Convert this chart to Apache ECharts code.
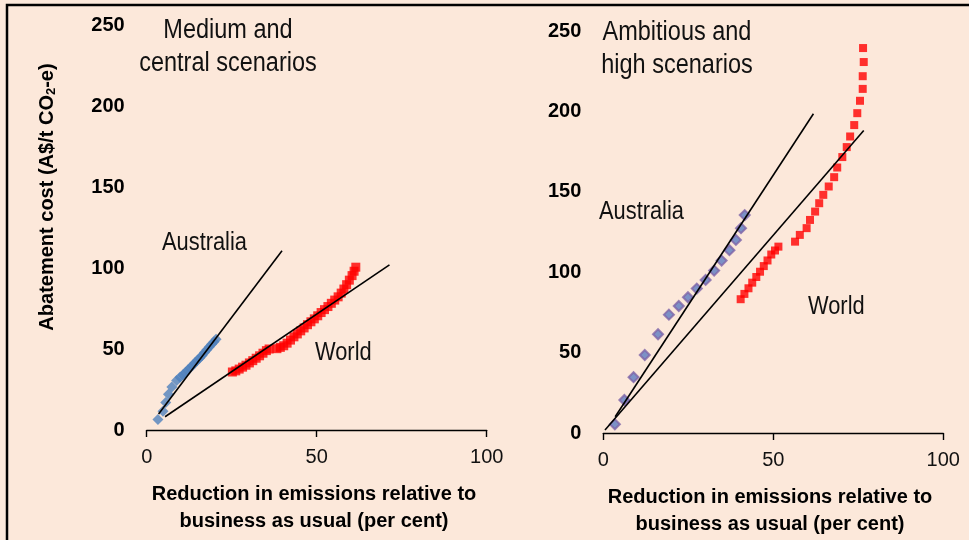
<!DOCTYPE html>
<html>
<head>
<meta charset="utf-8">
<script src="https://cdn.jsdelivr.net/npm/echarts@6/dist/echarts.min.js"></script>
<style>
  html, body { margin: 0; padding: 0; background: #FCE8DA; }
  #chart { width: 969px; height: 540px; }
</style>
</head>
<body>
<div id="chart"></div>
<script>
// Axis ranges (per cent reduction vs A$/t CO2-e)
const xRange = { min: 0, max: 100, step: 50 };
const yRange = { min: 0, max: 250, step: 50 };

// Medium and central scenarios
const ausMedium = [
  [3.3, 6.5], [4.8, 11.5], [5.6, 17], [6.4, 22], [7.4, 26.5], [8.8, 30.5],
  [9.8, 32.5], [10.6, 34], [11.4, 35.5], [12.1, 37], [12.8, 38.5], [13.5, 40],
  [14.2, 41.5], [14.9, 43], [15.6, 44.5], [16.3, 46], [17.0, 47.8], [17.7, 49.5],
  [18.4, 51.2], [19.1, 53], [19.8, 54.5], [20.4, 56]
];
const worldMedium = [
  [25.2, 35.8], [26.2, 36.5], [27.2, 37.6], [28.2, 38.8], [29.2, 40], [30.2, 41.4],
  [31.2, 42.8], [32.2, 44.3], [33.2, 45.8], [34.2, 47.4], [35.2, 49], [36.0, 50],
  [38.3, 50.2], [39.3, 51], [40.3, 52], [41.3, 53.6], [42.3, 55.5], [43.3, 57.5],
  [44.3, 59.3], [45.3, 61.2], [46.3, 63], [47.3, 65], [48.3, 66.8], [49.3, 68.6],
  [50.3, 70.5], [51.3, 72.5], [52.3, 74.3], [53.3, 76.2], [54.3, 78.2], [55.3, 80.2],
  [56.3, 82.2], [57.2, 84.5], [58.0, 87], [58.8, 89.7], [59.6, 92.5], [60.4, 95.3],
  [61.0, 98], [61.5, 100.5]
];
const ausMediumTrend = [[3.5, 9.9], [39.8, 110.7]];
const worldMediumTrend = [[5.4, 8.2], [71.4, 101.9]];

// Ambitious and high scenarios
const ausHigh = [
  [3.4, 5.4], [6.2, 20.5], [8.9, 34.7], [12.2, 48.5], [16.1, 61.4], [19.3, 73.6],
  [22.2, 79], [24.9, 84.4], [27.5, 89.8], [30.1, 95.2], [32.6, 101], [34.8, 107.2],
  [37.1, 113.7], [39.0, 120.1], [40.5, 127.4], [41.6, 135.5]
];
const worldHigh = [
  [40.4, 83.2], [41.5, 86.5], [42.7, 90], [43.8, 93.5], [45.0, 97], [46.1, 100.3],
  [47.2, 103.8], [48.3, 107.3], [49.4, 111], [50.5, 113.5], [51.5, 115.9],
  [56.4, 119], [57.8, 123.2], [59.8, 127.4], [60.8, 132.5], [62.3, 137.7],
  [63.5, 142.9], [64.7, 148.1], [66.3, 153.3], [67.9, 159.1], [68.8, 165.1],
  [70.3, 171.6], [71.6, 177.8], [72.6, 184.4], [73.8, 191.5], [74.7, 198.9],
  [75.5, 206.6], [76.3, 214], [76.3, 221.9], [76.6, 230.7], [76.4, 239.4]
];
const ausHighTrend = [[3.5, 10.1], [61.8, 198.5]];
const worldHighTrend = [[0.5, 1.9], [76.6, 188.1]];

const FONT = '"Liberation Sans", Arial, sans-serif';

const chart = echarts.init(document.getElementById('chart'), null, { renderer: 'canvas' });

function xAxisCfg(gridIndex) {
  return {
    type: 'value', gridIndex, min: xRange.min, max: xRange.max, interval: xRange.step,
    axisLine: { show: true, lineStyle: { color: '#000', width: 1.4 } },
    axisTick: { show: true, length: 7, lineStyle: { color: '#000', width: 1.4 } },
    splitLine: { show: false },
    axisLabel: { margin: 17, color: '#111', fontFamily: FONT, fontSize: 20 }
  };
}
function yAxisCfg(gridIndex) {
  return {
    type: 'value', gridIndex, min: yRange.min, max: yRange.max, interval: yRange.step,
    axisLine: { show: false }, axisTick: { show: false }, splitLine: { show: false },
    axisLabel: { margin: 22, color: '#000', fontFamily: FONT, fontWeight: 'bold', fontSize: 20 }
  };
}
function trend(data, idx) {
  return {
    type: 'line', data, xAxisIndex: idx, yAxisIndex: idx, showSymbol: false, symbol: 'none',
    lineStyle: { color: '#000', width: 1.6 }, z: 5, animation: false, silent: true
  };
}
function scatter(data, idx, symbol, size, style) {
  return {
    type: 'scatter', data, xAxisIndex: idx, yAxisIndex: idx, symbol, symbolSize: size,
    itemStyle: style, z: 3, animation: false, silent: true
  };
}
// condensed-looking annotation text (horizontally squeezed about its anchor)
function label(text, x, y, opts, squeeze) {
  return {
    type: 'text', x, y, silent: true, scaleX: squeeze || 1,
    style: Object.assign({ text, fill: '#111', fontFamily: FONT, fontSize: 26,
      align: 'left', verticalAlign: 'middle' }, opts || {})
  };
}
const boldTitle = { align: 'center', fontWeight: 'bold', fontSize: 20, fill: '#000' };

const axisTitleRich = {
  b: { fontFamily: FONT, fontWeight: 'bold', fontSize: 20, fill: '#000', lineHeight: 24 },
  s: { fontFamily: FONT, fontWeight: 'bold', fontSize: 13, fill: '#000', lineHeight: 24, padding: [9, 0, 0, 0] }
};

chart.setOption({
  backgroundColor: '#FCE8DA',
  animation: false,
  grid: [
    { left: 146.7, top: 25, width: 340, height: 405 },
    { left: 603.3, top: 31, width: 340, height: 402 }
  ],
  xAxis: [xAxisCfg(0), xAxisCfg(1)],
  yAxis: [yAxisCfg(0), yAxisCfg(1)],
  series: [
    scatter(ausMedium, 0, 'diamond', 11, { color: '#4F81BD' }),
    scatter(worldMedium, 0, 'rect', 9, { color: '#FF0000' }),
    trend(ausMediumTrend, 0),
    trend(worldMediumTrend, 0),
    scatter(ausHigh, 1, 'diamond', 10, { color: '#5B7BC0', borderColor: '#7E64A8', borderWidth: 2 }),
    scatter(worldHigh, 1, 'rect', 8, { color: '#FF0000' }),
    trend(ausHighTrend, 1),
    trend(worldHighTrend, 1)
  ],
  graphic: [
    // outer frame
    { type: 'rect', shape: { x: 7, y: 5, width: 990, height: 560 }, silent: true,
      style: { fill: 'none', stroke: '#000', lineWidth: 2.5 } },
    // panel headings
    label('Medium and', 228, 31, { align: 'center', fontSize: 27 }, 0.87),
    label('central scenarios', 228, 64, { align: 'center', fontSize: 27 }, 0.87),
    label('Ambitious and', 677, 33, { align: 'center', fontSize: 27 }, 0.87),
    label('high scenarios', 677, 66, { align: 'center', fontSize: 27 }, 0.87),
    // series annotations
    label('Australia', 162, 243, null, 0.84),
    label('World', 315, 353, null, 0.84),
    label('Australia', 599, 212, null, 0.84),
    label('World', 808, 307, null, 0.84),
    // x-axis titles
    label('Reduction in emissions relative to', 314, 494, boldTitle),
    label('business as usual (per cent)', 314, 521, boldTitle),
    label('Reduction in emissions relative to', 770, 497, boldTitle),
    label('business as usual (per cent)', 770, 524, boldTitle),
    // y-axis title with subscript
    { type: 'text', x: 47, y: 197, rotation: Math.PI / 2, silent: true,
      style: { text: '{b|Abatement cost (A$/t CO}{s|2}{b|-e)}', rich: axisTitleRich,
        align: 'center', verticalAlign: 'middle' } }
  ]
});
</script>
</body>
</html>
